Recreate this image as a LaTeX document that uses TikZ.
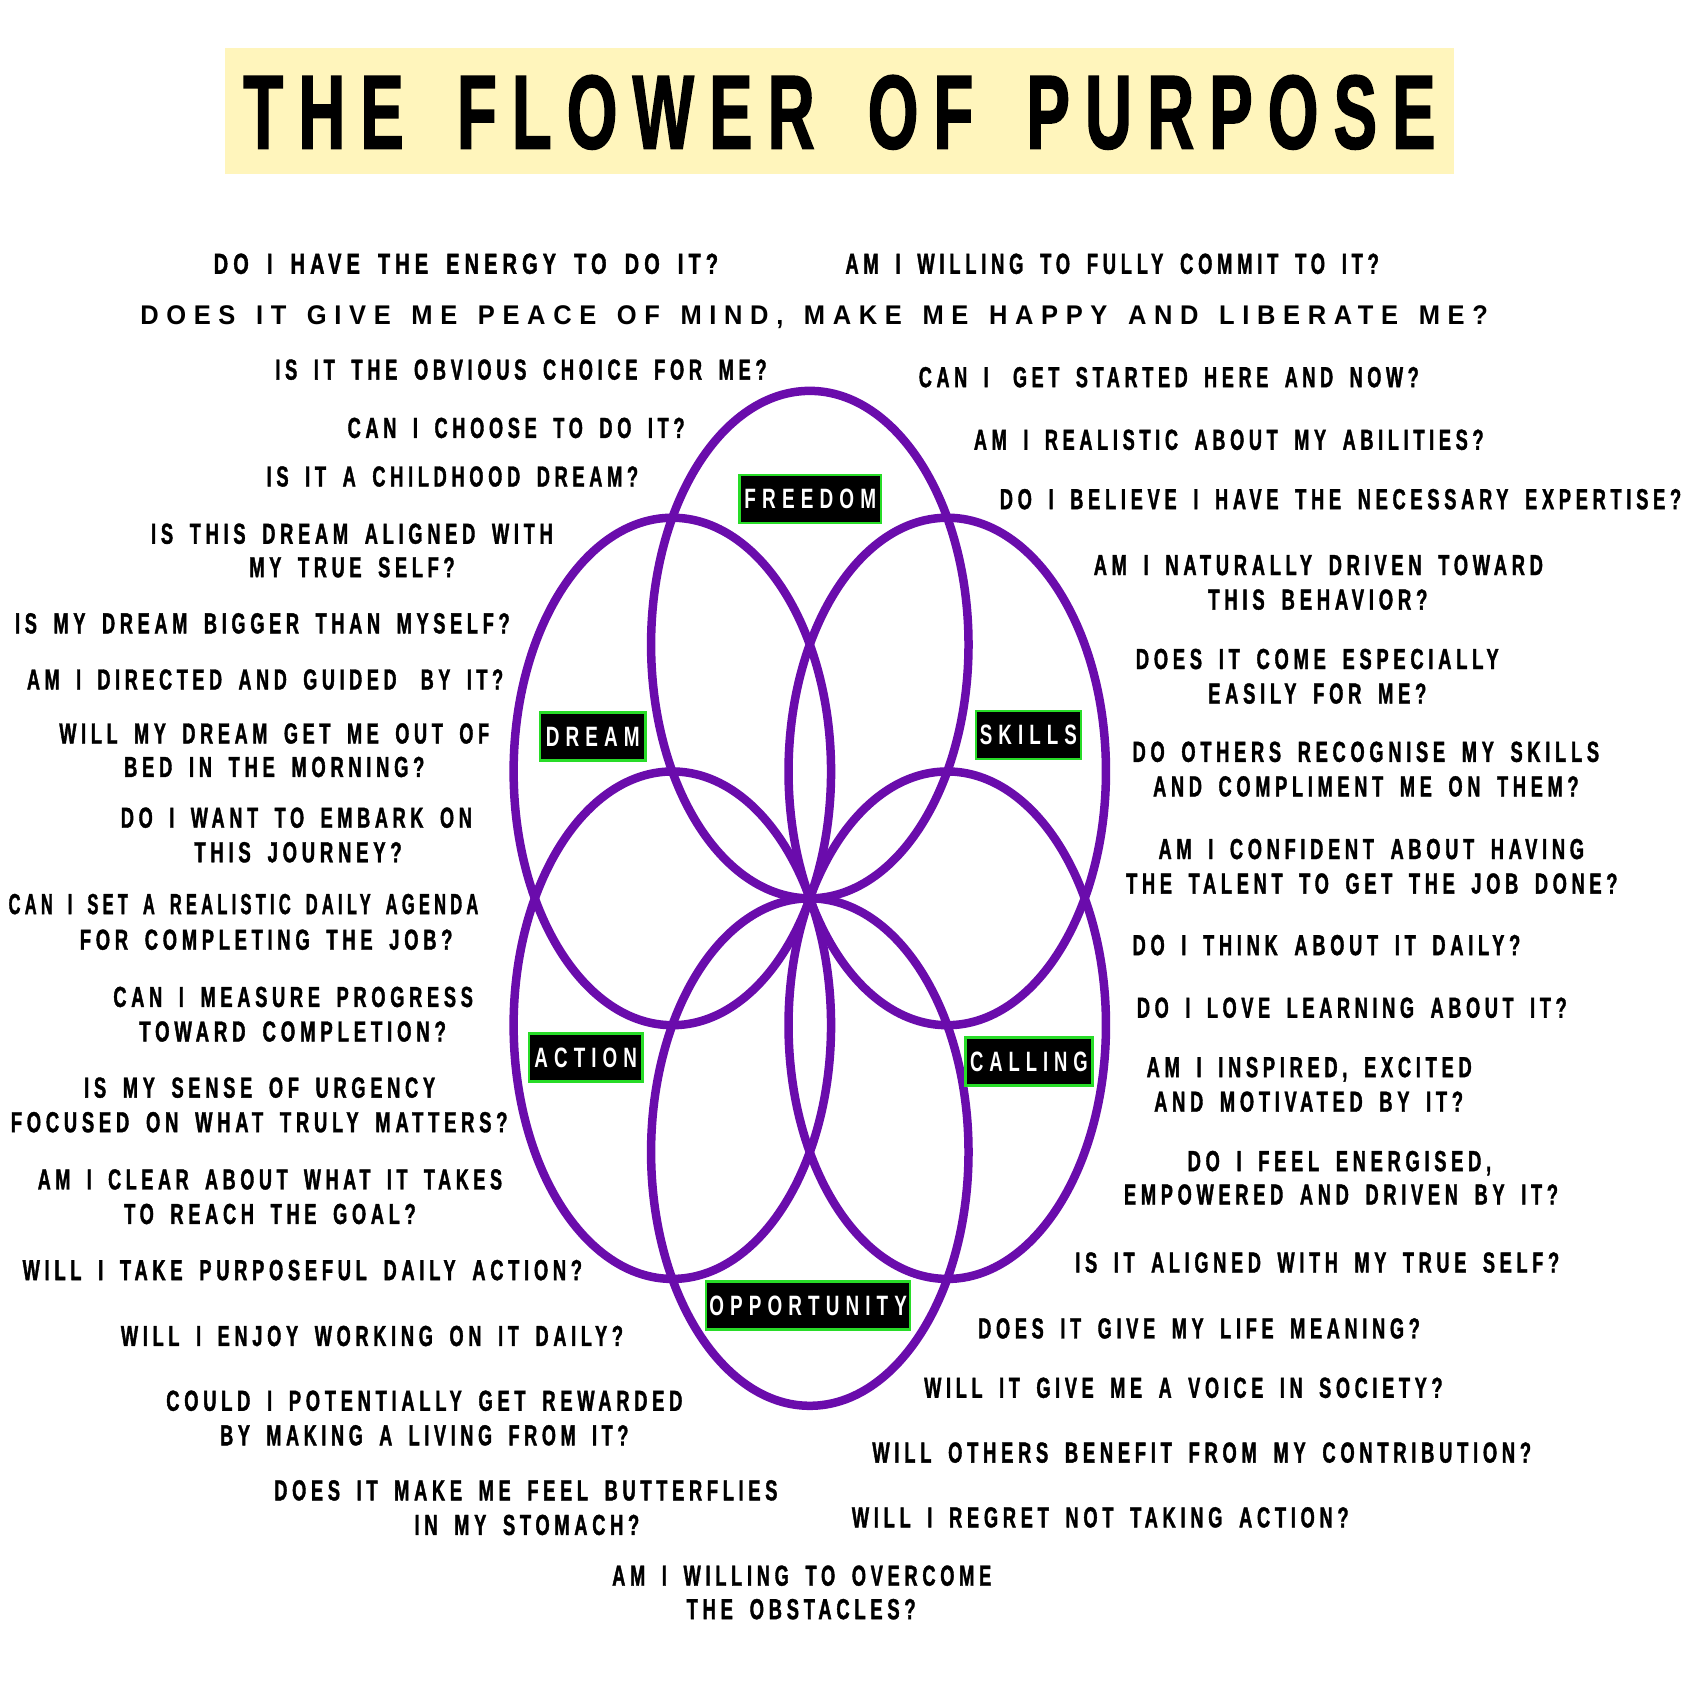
\documentclass[tikz,border=0pt]{standalone}
\usepackage{fontspec}
\usepackage{graphicx}
\newfontfamily\qfont{Liberation Sans}[FakeStretch=0.58,LetterSpace=15,WordSpace=1.7,FakeBold=1.2]
\newfontfamily\wfont{Liberation Sans}[LetterSpace=30,WordSpace=1.4]
\newfontfamily\tfont{Liberation Sans}[FakeStretch=0.68,LetterSpace=16,WordSpace=1.6,FakeBold=1.5]
\newfontfamily\lfont{Liberation Sans}[FakeStretch=0.62,LetterSpace=20]
\definecolor{petalc}{RGB}{106,12,172}
\definecolor{labgreen}{RGB}{40,220,40}
\definecolor{titlebg}{RGB}{255,245,188}
\newcommand\qln[5]{%
  \pgfmathsetmacro\qwid{(#3-#2)*1.079719}%
  \node[qtext] (#1) at ({(#2+#3)/2},{#4+9.6}) {\resizebox{\qwid pt}{\height}{\qfont\bfseries #5}};%
}
\newcommand\labnode[6]{%
  \pgfmathsetmacro\lbw{#4*1.079719}%
  \pgfmathsetmacro\ltw{#5*1.079719}%
  \node[labbox, minimum width=\lbw pt] (#1) at (#2,#3) {\resizebox{\ltw pt}{\height}{\lfont\bfseries #6}};%
}
\begin{document}
\begin{tikzpicture}[x=1.079719pt,y=-1.079719pt,
  qtext/.style={anchor=base, inner sep=0pt, text=black, font=\fontsize{29}{34}\selectfont},
  petal/.style={draw=petalc, line width=8.5pt},
  labbox/.style={fill=black, draw=labgreen, line width=2.5pt, inner xsep=0pt, inner ysep=14pt,
    text height=20pt, text depth=0pt, text=white, font=\fontsize{28}{30}\selectfont},
  titlebox/.style={fill=titlebg, minimum width=1229.8pt, minimum height=126.3pt, inner sep=0pt,
    text height=75.6pt, text depth=0pt, font=\fontsize{105}{110}\selectfont}]
\useasboundingbox (0,0) rectangle (1568,1568);
\fill[white] (0,0) rectangle (1568,1568);

% title
\node[titlebox] (title) at (777.5,102.5) {\resizebox{1192pt}{\height}{\tfont\bfseries THE FLOWER OF PURPOSE}};

% flower
\foreach \a in {90,30,-30,-90,-150,150}
  \draw[petal] ({750+147*cos(\a)},{832-235*sin(\a)}) ellipse [x radius=147, y radius=235];

% petal labels
\labnode{freedom}{750.5}{462}{131}{122}{FREEDOM}
\labnode{dream}{549}{682}{98}{87}{DREAM}
\labnode{skills}{952.5}{680.5}{97}{90}{SKILLS}
\labnode{action}{542.5}{979.5}{105}{95}{ACTION}
\labnode{calling}{953}{983}{118}{109}{CALLING}
\labnode{opportunity}{748.5}{1209}{189}{183}{OPPORTUNITY}

% questions
\qln{q1}{198}{665}{244}{DO I HAVE THE ENERGY TO DO IT?}
\qln{q2}{783}{1277}{244}{AM I WILLING TO FULLY COMMIT TO IT?}
\pgfmathsetmacro\qwid{(1378-130)*1.079719}
\node[qtext, font=\fontsize{27}{30}\selectfont] (q3) at (754,{292+9}) {\resizebox{\qwid pt}{\height}{\wfont\bfseries DOES IT GIVE ME PEACE OF MIND, MAKE ME HAPPY AND LIBERATE ME?}};
\qln{q4}{255}{710}{342}{IS IT THE OBVIOUS CHOICE FOR ME?}
\qln{q5}{851}{1314}{349}{CAN I\hspace{0.25em} GET STARTED HERE AND NOW?}
\qln{q6}{322}{634}{396}{CAN I CHOOSE TO DO IT?}
\qln{q7}{902}{1374}{407}{AM I REALISTIC ABOUT MY ABILITIES?}
\qln{q8}{247}{591}{441}{IS IT A CHILDHOOD DREAM?}
\qln{q9}{926}{1557}{462}{DO I BELIEVE I HAVE THE NECESSARY EXPERTISE?}
\qln{q10a}{140}{512}{494}{IS THIS DREAM ALIGNED WITH}
\qln{q10b}{231}{421}{525}{MY TRUE SELF?}
\qln{q11a}{1013}{1429}{523}{AM I NATURALLY DRIVEN TOWARD}
\qln{q11b}{1119}{1322}{555}{THIS BEHAVIOR?}
\qln{q12}{14}{472}{577}{IS MY DREAM BIGGER THAN MYSELF?}
\qln{q13a}{1052}{1388}{610}{DOES IT COME ESPECIALLY}
\qln{q13b}{1119}{1321}{642}{EASILY FOR ME?}
\qln{q14}{25}{466}{629}{AM I DIRECTED AND GUIDED\hspace{0.25em} BY IT?}
\qln{q15a}{55}{453}{679}{WILL MY DREAM GET ME OUT OF}
\qln{q15b}{115}{393}{710}{BED IN THE MORNING?}
\qln{q16a}{1049}{1481}{696}{DO OTHERS RECOGNISE MY SKILLS}
\qln{q16b}{1068}{1462}{728}{AND COMPLIMENT ME ON THEM?}
\qln{q17a}{112}{437}{757}{DO I WANT TO EMBARK ON}
\qln{q17b}{180}{372}{789}{THIS JOURNEY?}
\qln{q18a}{1073}{1467}{786}{AM I CONFIDENT ABOUT HAVING}
\qln{q18b}{1043}{1498}{818}{THE TALENT TO GET THE JOB DONE?}
\qln{q19a}{8}{443}{837}{CAN I SET A REALISTIC DAILY AGENDA}
\qln{q19b}{74}{419}{870}{FOR COMPLETING THE JOB?}
\qln{q20}{1049}{1408}{875}{DO I THINK ABOUT IT DAILY?}
\qln{q21a}{105}{438}{923}{CAN I MEASURE PROGRESS}
\qln{q21b}{129}{413}{955}{TOWARD COMPLETION?}
\qln{q22}{1053}{1451}{933}{DO I LOVE LEARNING ABOUT IT?}
\qln{q23a}{78}{403}{1007}{IS MY SENSE OF URGENCY}
\qln{q23b}{10}{470}{1039}{FOCUSED ON WHAT TRULY MATTERS?}
\qln{q24a}{1062}{1363}{988}{AM I INSPIRED, EXCITED}
\qln{q24b}{1069}{1355}{1020}{AND MOTIVATED BY IT?}
\qln{q25a}{35}{465}{1092}{AM I CLEAR ABOUT WHAT IT TAKES}
\qln{q25b}{115}{385}{1124}{TO REACH THE GOAL?}
\qln{q26a}{1100}{1381}{1075}{DO I FEEL ENERGISED,}
\qln{q26b}{1041}{1443}{1106}{EMPOWERED AND DRIVEN BY IT?}
\qln{q27}{21}{539}{1176}{WILL I TAKE PURPOSEFUL DAILY ACTION?}
\qln{q28}{996}{1444}{1169}{IS IT ALIGNED WITH MY TRUE SELF?}
\qln{q29}{112}{577}{1237}{WILL I ENJOY WORKING ON IT DAILY?}
\qln{q30}{906}{1315}{1230}{DOES IT GIVE MY LIFE MEANING?}
\qln{q31a}{154}{632}{1297}{COULD I POTENTIALLY GET REWARDED}
\qln{q31b}{204}{582}{1329}{BY MAKING A LIVING FROM IT?}
\qln{q32}{856}{1336}{1285}{WILL IT GIVE ME A VOICE IN SOCIETY?}
\qln{q33}{808}{1418}{1345}{WILL OTHERS BENEFIT FROM MY CONTRIBUTION?}
\qln{q34a}{254}{720}{1380}{DOES IT MAKE ME FEEL BUTTERFLIES}
\qln{q34b}{384}{592}{1412}{IN MY STOMACH?}
\qln{q35}{789}{1249}{1405}{WILL I REGRET NOT TAKING ACTION?}
\qln{q36a}{567}{918}{1459}{AM I WILLING TO OVERCOME}
\qln{q36b}{636}{848}{1490}{THE OBSTACLES?}
\end{tikzpicture}
\end{document}
